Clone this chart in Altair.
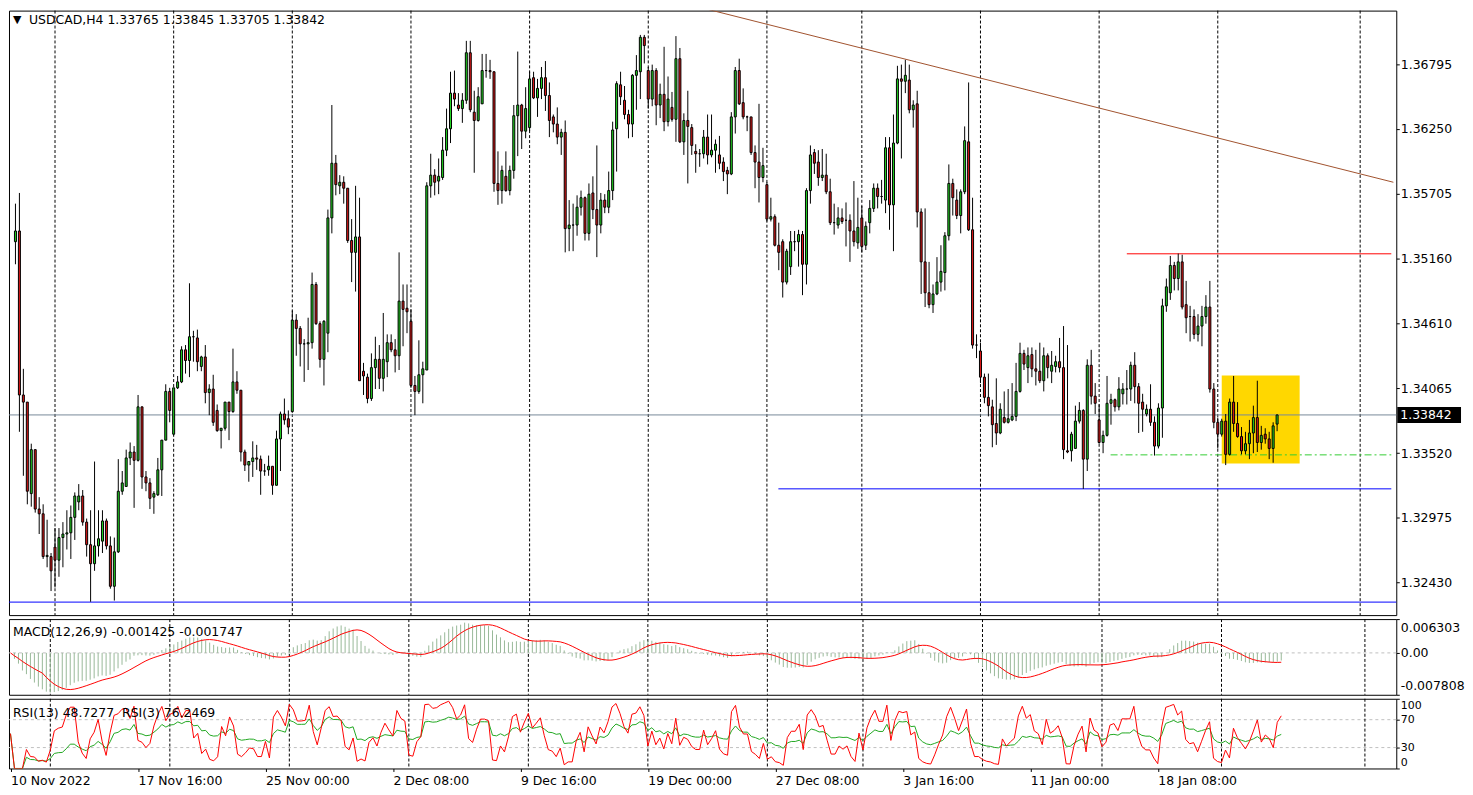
import altair as alt
import pandas as pd

# ---------------- data (USDCAD H4), prices in pips above 1.30000 ----------------
opens_pips = [
    530, 539, 401, 395, 318, 355, 305, 301, 265, 265,
    273, 262, 281, 284, 285, 298, 311, 316, 294, 275,
    259, 274, 278, 295, 274, 240, 269, 320, 324, 348,
    353, 346, 391, 332, 327, 315, 317, 338, 363, 404,
    368, 407, 412, 439, 430, 450, 449, 425, 433, 403,
    406, 388, 371, 373, 395, 387, 412, 405, 353, 342,
    345, 348, 347, 337, 338, 341, 325, 364, 385, 381,
    387, 464, 457, 444, 444, 445, 494, 461, 431, 453,
    550, 596, 577, 580, 575, 531, 521, 534, 421, 416,
    398, 424, 431, 415, 429, 445, 439, 434, 480, 474,
    463, 409, 404, 418, 422, 577, 586, 581, 584, 607,
    625, 655, 645, 642, 649, 689, 639, 632, 646, 674,
    674, 673, 579, 573, 585, 573, 590, 636, 645, 623,
    626, 668, 651, 659, 668, 653, 635, 629, 618, 622,
    541, 544, 544, 559, 567, 537, 571, 557, 544, 565,
    559, 573, 625, 662, 649, 637, 629, 670, 673, 702,
    674, 650, 674, 645, 654, 631, 643, 633, 684, 614,
    632, 626, 606, 604, 604, 618, 603, 607, 603, 597,
    590, 587, 635, 674, 647, 635, 635, 605, 597, 584,
    578, 549, 551, 527, 530, 496, 509, 530, 530, 536,
    511, 573, 605, 597, 584, 586, 572, 546, 544, 550,
    548, 548, 539, 529, 550, 527, 546, 558, 575, 568,
    565, 609, 561, 613, 667, 665, 666, 641, 646, 555,
    513, 487, 477, 486, 496, 504, 535, 579, 565, 552,
    572, 614, 540, 443, 438, 416, 399, 391, 377, 369,
    382, 378, 380, 383, 404, 436, 424, 435, 423, 421,
    413, 434, 421, 425, 429, 424, 354, 354, 356, 379,
    388, 347, 426, 400, 380, 361, 367, 394, 397, 391,
    402, 406, 406, 426, 408, 395, 385, 389, 378, 358,
    390, 476, 487, 510, 499, 513, 477, 467, 467, 452,
    459, 467, 475, 406, 378, 368, 379, 351, 395, 377,
    366, 354, 360, 369, 382, 361, 368, 364, 356, 376.5,
]
highs_pips = [
    562, 571, 423, 395, 360, 355, 315, 309, 296, 268,
    289, 289, 294, 304, 308, 319, 326, 321, 297, 304,
    345, 304, 304, 297, 282, 281, 347, 337, 355, 361,
    358, 401, 391, 337, 331, 320, 348, 363, 410, 407,
    407, 417, 442, 443, 495, 455, 456, 434, 443, 410,
    418, 393, 373, 395, 395, 440, 421, 405, 355, 345,
    362, 359, 350, 343, 350, 341, 371, 387, 398, 388,
    472, 469, 459, 448, 466, 504, 496, 463, 464, 557,
    645, 603, 586, 585, 575, 549, 577, 567, 428, 419,
    436, 450, 443, 470, 452, 452, 448, 521, 494, 494,
    473, 417, 447, 429, 580, 604, 591, 600, 618, 642,
    673, 674, 655, 655, 699, 699, 657, 660, 688, 688,
    683, 673, 606, 594, 606, 594, 645, 690, 646, 660,
    673, 673, 667, 677, 682, 664, 637, 643, 625, 632,
    565, 562, 569, 573, 568, 579, 585, 611, 571, 570,
    589, 631, 665, 673, 661, 641, 671, 687, 704, 704,
    677, 679, 676, 663, 694, 669, 656, 703, 693, 638,
    657, 629, 612, 608, 624, 637, 637, 616, 619, 601,
    593, 639, 677, 684, 659, 636, 635, 611, 646, 609,
    580, 567, 553, 546, 532, 524, 539, 539, 540, 539,
    575, 611, 608, 607, 608, 604, 583, 562, 559, 558,
    563, 553, 581, 567, 560, 547, 565, 579, 579, 582,
    618, 618, 637, 678, 679, 683, 679, 649, 657, 558,
    558, 513, 494, 517, 527, 538, 595, 583, 574, 574,
    627, 664, 567, 452, 445, 419, 419, 397, 415, 394,
    404, 406, 411, 428, 445, 439, 441, 441, 439, 445,
    441, 436, 438, 434, 449, 459, 443, 370, 392, 395,
    389, 431, 439, 411, 393, 371, 417, 402, 398, 416,
    411, 422, 429, 437, 411, 402, 393, 410, 383, 394,
    482, 499, 518, 513, 520, 519, 497, 476, 473, 469,
    476, 485, 497, 411, 382, 381, 385, 398, 417, 395,
    374, 370, 380, 392, 413, 375, 373, 370, 378, 384.5,
]
lows_pips = [
    511, 370, 333, 309, 307, 302, 284, 263, 256, 236,
    239, 248, 256, 271, 263, 279, 304, 291, 265, 227,
    253, 265, 268, 271, 238, 228, 268, 317, 324, 342,
    306, 345, 322, 320, 305, 301, 316, 316, 363, 378,
    367, 406, 411, 419, 416, 429, 421, 421, 394, 384,
    375, 370, 356, 371, 363, 386, 402, 345, 337, 328,
    332, 338, 317, 333, 333, 317, 325, 337, 376, 368,
    386, 434, 425, 412, 422, 440, 460, 424, 409, 437,
    537, 569, 570, 562, 529, 496, 488, 413, 401, 394,
    396, 406, 406, 404, 416, 437, 420, 422, 442, 453,
    407, 384, 402, 394, 422, 567, 569, 570, 582, 602,
    613, 644, 640, 630, 646, 639, 588, 631, 646, 668,
    667, 572, 561, 562, 572, 569, 583, 602, 608, 617,
    623, 650, 635, 650, 640, 618, 622, 612, 603, 521,
    522, 522, 535, 552, 531, 531, 549, 517, 537, 554,
    554, 565, 589, 645, 633, 617, 618, 641, 650, 680,
    642, 644, 628, 634, 623, 627, 631, 614, 613, 603,
    579, 603, 588, 593, 600, 595, 601, 588, 591, 581,
    570, 586, 621, 645, 633, 623, 603, 575, 563, 580,
    547, 547, 526, 506, 483, 494, 502, 522, 509, 485,
    494, 562, 587, 577, 581, 570, 544, 536, 541, 545,
    526, 513, 526, 524, 521, 523, 537, 555, 558, 562,
    554, 540, 522, 612, 600, 655, 638, 626, 542, 486,
    475, 474, 470, 485, 488, 489, 531, 552, 549, 537,
    570, 539, 440, 432, 411, 394, 383, 357, 359, 368,
    377, 377, 379, 379, 403, 422, 411, 416, 409, 411,
    404, 415, 411, 420, 420, 347, 352, 345, 356, 377,
    322, 337, 393, 385, 360, 352, 366, 376, 387, 388,
    393, 393, 396, 394, 369, 370, 383, 375, 350, 356,
    365, 471, 481, 489, 489, 473, 453, 446, 448, 446,
    442, 461, 403, 373, 356, 366, 342, 350, 370, 365,
    351, 351, 347, 352, 353, 355, 360, 347, 344, 370.5,
]
closes_pips = [
    539, 401, 395, 320, 355, 305, 301, 265, 266, 253,
    262, 281, 284, 285, 298, 316, 316, 294, 275, 259,
    274, 280, 295, 274, 240, 269, 320, 327, 348, 353,
    346, 391, 332, 327, 314, 318, 338, 363, 404, 388,
    407, 412, 439, 430, 450, 450, 429, 433, 403, 406,
    378, 371, 373, 395, 387, 412, 405, 353, 342, 345,
    348, 347, 337, 337, 341, 325, 364, 385, 380, 374,
    464, 457, 444, 444, 445, 494, 461, 431, 463, 550,
    596, 578, 580, 575, 531, 521, 534, 413, 417, 398,
    424, 431, 415, 431, 445, 439, 434, 480, 473, 471,
    409, 404, 418, 423, 577, 586, 580, 585, 607, 625,
    655, 650, 642, 649, 689, 641, 632, 652, 674, 674,
    673, 579, 573, 590, 573, 590, 636, 645, 623, 642,
    667, 651, 659, 668, 653, 632, 629, 618, 622, 541,
    544, 544, 559, 567, 537, 570, 557, 544, 565, 559,
    573, 624, 663, 652, 637, 629, 670, 674, 702, 695,
    650, 674, 645, 654, 631, 650, 633, 684, 614, 632,
    627, 611, 604, 604, 618, 603, 607, 612, 596, 589,
    587, 635, 674, 646, 635, 635, 605, 597, 584, 594,
    549, 551, 527, 521, 496, 522, 530, 530, 536, 511,
    573, 603, 596, 584, 586, 572, 546, 546, 550, 547,
    548, 539, 530, 542, 526, 543, 558, 575, 568, 568,
    609, 561, 613, 667, 665, 670, 641, 645, 555, 513,
    487, 477, 486, 496, 505, 535, 579, 567, 552, 572,
    615, 540, 443, 443, 416, 399, 392, 376, 369, 389,
    378, 381, 383, 404, 436, 427, 434, 423, 421, 413,
    434, 424, 426, 429, 424, 355, 353, 368, 379, 388,
    347, 426, 400, 394, 361, 367, 394, 397, 391, 406,
    406, 406, 426, 408, 394, 389, 389, 378, 358, 390,
    476, 492, 510, 499, 513, 475, 466, 467, 452, 459,
    467, 475, 406, 378, 368, 379, 351, 395, 377, 366,
    354, 360, 369, 382, 361, 367, 364, 356, 375, 384.2,
]

date_label_bars = [0, 32, 64, 96, 128, 160, 192, 224, 256, 288]
date_labels = ["10 Nov 2022", "17 Nov 16:00", "25 Nov 00:00", "2 Dec 08:00", "9 Dec 16:00",
               "19 Dec 00:00", "27 Dec 08:00", "3 Jan 16:00", "11 Jan 00:00", "18 Jan 08:00"]
grid_bars = [10, 40, 70, 100, 130, 160, 190, 214, 244, 274, 304, 340]
price_ticks = [1.32430, 1.32975, 1.33520, 1.34065, 1.34610, 1.35160, 1.35705, 1.36250, 1.36795]

last_price = 1.33842
support_full_price = 1.32267
support_part = {"from": 192.9, "price": 1.33220}
resist_red = {"from": 281.0, "price": 1.35198}
green_level = {"from": 276.9, "price": 1.33506}
trend_pts = {"x0": 171.5, "p0": 1.37285, "x1": 348.4, "p1": 1.35800}
yellow_box = {"x0": 305.0, "x1": 324.7, "p0": 1.33434, "p1": 1.34173}

price_range = [1.321575, 1.372446]
macd_range = [-0.007808, 0.006303]
macd_labels = ["-0.007808", "0.00", "0.006303"]
rsi_ticks = [0, 30, 70, 100]

title_text = "USDCAD,H4 1.33765 1.33845 1.33705 1.33842"
macd_text = "MACD(12,26,9) -0.001425 -0.001747"
rsi_text = "RSI(13) 48.7277\u00a0 RSI(3) 76.2469"

# ---------------- tables ----------------
n = len(closes_pips)
to_price = lambda v: 1.3 + v / 10000.0
cdf = pd.DataFrame({
    "i": list(range(n)),
    "o": [to_price(v) for v in opens_pips],
    "h": [to_price(v) for v in highs_pips],
    "l": [to_price(v) for v in lows_pips],
    "c": [to_price(v) for v in closes_pips],
})
cdf["dir"] = ["up" if c >= o else "down" for o, c in zip(cdf["o"], cdf["c"])]

close = cdf["c"]
macd_main = close.ewm(span=12, adjust=False).mean() - close.ewm(span=26, adjust=False).mean()
macd_signal = macd_main.rolling(9, min_periods=1).mean()


def rsi(series, period):
    d = series.diff().fillna(0)
    up = d.clip(lower=0).ewm(alpha=1.0 / period, adjust=False).mean()
    dn = (-d.clip(upper=0)).ewm(alpha=1.0 / period, adjust=False).mean()
    return (100 - 100 / (1 + up / dn)).fillna(50)


idf = pd.DataFrame({"i": cdf["i"], "macd": macd_main, "signal": macd_signal,
                    "rsi13": rsi(close, 13), "rsi3": rsi(close, 3)})

# ---------------- styling ----------------
FONT = "DejaVu Sans"
FS = 12.5
W = 1393
H_MAIN, H_MACD, H_RSI = 607, 76, 70
X0 = -0.375
X1 = X0 + W / 4.0
GREEN = "#22d422"
RED = "#e01818"
HIST = "#98b898"

xsc = alt.Scale(domain=[X0, X1], nice=False, zero=False)
psc = alt.Scale(domain=price_range, nice=False, zero=False)
msc = alt.Scale(domain=macd_range, nice=False, zero=False)
rsc = alt.Scale(domain=[0, 100], nice=False, zero=False)

price_axis = alt.Axis(orient="right", values=price_ticks, format=".5f", tickSize=3, tickColor="black",
                      labelPadding=1, domain=False, grid=False, title=None, labelOverlap=False)
macd_expr = (f"datum.value < 0 ? '{macd_labels[0]}' : (datum.value > 0 ? '{macd_labels[2]}' : '{macd_labels[1]}')")
macd_axis = alt.Axis(orient="right", values=[macd_range[0], 0, macd_range[1]], labelExpr=macd_expr,
                     labelFlush=True, labelFlushOffset=-2, tickSize=3, tickColor="black", labelPadding=1,
                     domain=False, grid=False, title=None, labelOverlap=False)
rsi_axis = alt.Axis(orient="right", values=rsi_ticks, format="d", labelFlush=True, labelFlushOffset=-1,
                    tickSize=3, tickColor="black", labelPadding=1, domain=False, grid=False, title=None,
                    labelOverlap=False, labelFontSize=11)
date_expr = "".join(f"datum.value == {b} ? '{t}' : " for b, t in zip(date_label_bars, date_labels)) + "''"
x_axis = alt.Axis(values=date_label_bars, labelExpr=date_expr, labelAlign="left", labelFlush=False,
                  labelOverlap=False, tickSize=3, tickColor="black", labelPadding=3, domain=False,
                  grid=False, title=None)


def X(f, axis=None):
    return alt.X(f, type="quantitative", scale=xsc, axis=axis)


def PY(f):
    return alt.Y(f, type="quantitative", scale=psc, axis=price_axis)


def MY(f):
    return alt.Y(f, type="quantitative", scale=msc, axis=macd_axis)


def RY(f):
    return alt.Y(f, type="quantitative", scale=rsc, axis=rsi_axis)


one = pd.DataFrame({"k": [0]})
grid_df = pd.DataFrame({"i": grid_bars})


def grid(axis=None):
    return alt.Chart(grid_df).mark_rule(color="black", strokeWidth=1, strokeDash=[3, 2]).encode(x=X("i", axis))


def hline(level, color, dash=None):
    df = pd.DataFrame([{"a": level["from"], "b": X1, "p": level["price"]}])
    kw = {"strokeDash": dash} if dash else {}
    return alt.Chart(df).mark_line(color=color, strokeWidth=1, clip=True, **kw).transform_fold(
        ["a", "b"], as_=["end", "x"]).encode(x=X("x:Q"), y=PY("p"))


# ---------------- main panel ----------------
box = alt.Chart(pd.DataFrame([yellow_box])).mark_rect(color="#ffd700", clip=True).encode(
    x=X("x0"), x2="x1", y=PY("p0"), y2="p1")
last_line = alt.Chart(pd.DataFrame({"p": [last_price]})).mark_rule(color="#778899", strokeWidth=1).encode(y=PY("p"))
blue_full = alt.Chart(pd.DataFrame({"p": [support_full_price]})).mark_rule(
    color="#0000ff", strokeWidth=1).encode(y=PY("p"))
blue_part = hline(support_part, "#0000ff")
red_part = hline(resist_red, "#ff0000")
green_part = hline(green_level, "#32cd32", [7, 3, 2, 3])
trend = alt.Chart(pd.DataFrame([trend_pts])).mark_rule(color="#a0522d", strokeWidth=1, clip=True).encode(
    x=X("x0"), x2="x1", y=PY("p0"), y2="p1")

wicks = alt.Chart(cdf).mark_rule(color="black", strokeWidth=1, clip=True).encode(
    x=X("i"), y=PY("l"), y2="h:Q")
bodies = alt.Chart(cdf).mark_bar(size=2, stroke="black", strokeWidth=1, clip=True).encode(
    x=X("i"), y=PY("o"), y2="c:Q",
    fill=alt.Fill("dir:N", scale=alt.Scale(domain=["up", "down"], range=[GREEN, RED]), legend=None))

half_box = 8 * (price_range[1] - price_range[0]) / H_MAIN
pbox = alt.Chart(pd.DataFrame({"a": [last_price - half_box], "b": [last_price + half_box]})).mark_rect(
    color="black", clip=False).encode(x=alt.value(W + 1), x2=alt.value(W + 65), y=PY("a"), y2="b")
ptext = alt.Chart(pd.DataFrame({"p": [last_price], "t": [f"{last_price:.5f}"]})).mark_text(
    align="left", baseline="middle", color="white", font=FONT, fontSize=FS, clip=False).encode(
    x=alt.value(W + 4), y=PY("p"), text="t:N")

tri = alt.Chart(pd.DataFrame({"t": ["\u25bc"]})).mark_text(
    align="left", baseline="middle", font=FONT, fontSize=11, color="black").encode(
    x=alt.value(4), y=alt.value(9), text="t:N")
title = alt.Chart(pd.DataFrame({"t": [title_text]})).mark_text(
    align="left", baseline="middle", font=FONT, fontSize=FS, color="black").encode(
    x=alt.value(20), y=alt.value(9), text="t:N")

main = alt.layer(grid(), box, last_line, blue_full, blue_part, red_part, green_part, trend,
                 wicks, bodies, pbox, ptext, tri, title).properties(width=W, height=H_MAIN)

# ---------------- MACD panel ----------------
zero = alt.Chart(one).mark_rule(color="#c0c0c0", strokeWidth=1, strokeDash=[3, 3]).encode(y=MY("k"))
hist = alt.Chart(idf).mark_rule(color=HIST, strokeWidth=1, clip=True).encode(
    x=X("i"), y=MY("macd"), y2=alt.datum(0))
sig = alt.Chart(idf).mark_line(color="#ff0000", strokeWidth=1, clip=True).encode(
    x=X("i"), y=MY("signal"))
mtext = alt.Chart(pd.DataFrame({"t": [macd_text]})).mark_text(
    align="left", baseline="middle", font=FONT, fontSize=FS, color="black").encode(
    x=alt.value(4), y=alt.value(13), text="t:N")
macd_panel = alt.layer(zero, grid(), hist, sig, mtext).properties(width=W, height=H_MACD)

# ---------------- RSI panel ----------------
lv = alt.Chart(pd.DataFrame({"v": [30, 70]})).mark_rule(color="#c0c0c0", strokeWidth=1, strokeDash=[3, 3]).encode(
    y=RY("v"))
r13 = alt.Chart(idf).mark_line(color="#22a822", strokeWidth=1, clip=True).encode(
    x=X("i", x_axis), y=RY("rsi13"))
r3 = alt.Chart(idf).mark_line(color="#ff0000", strokeWidth=1, clip=True).encode(
    x=X("i", x_axis), y=RY("rsi3"))
rtext = alt.Chart(pd.DataFrame({"t": [rsi_text]})).mark_text(
    align="left", baseline="middle", font=FONT, fontSize=FS, color="black").encode(
    x=alt.value(4), y=alt.value(14), text="t:N")
rsi_panel = alt.layer(lv, grid(x_axis), r13, r3, rtext).properties(width=W, height=H_RSI)

chart = alt.vconcat(main, macd_panel, rsi_panel, spacing=2).properties(
    padding={"left": 0, "top": 0, "right": 0, "bottom": 0}
).configure(font=FONT).configure_view(stroke="black", strokeWidth=1).configure_axis(
    labelFont=FONT, labelFontSize=FS, labelColor="black")

chart.save("out.html", embed_options={"renderer": "svg", "actions": False})
